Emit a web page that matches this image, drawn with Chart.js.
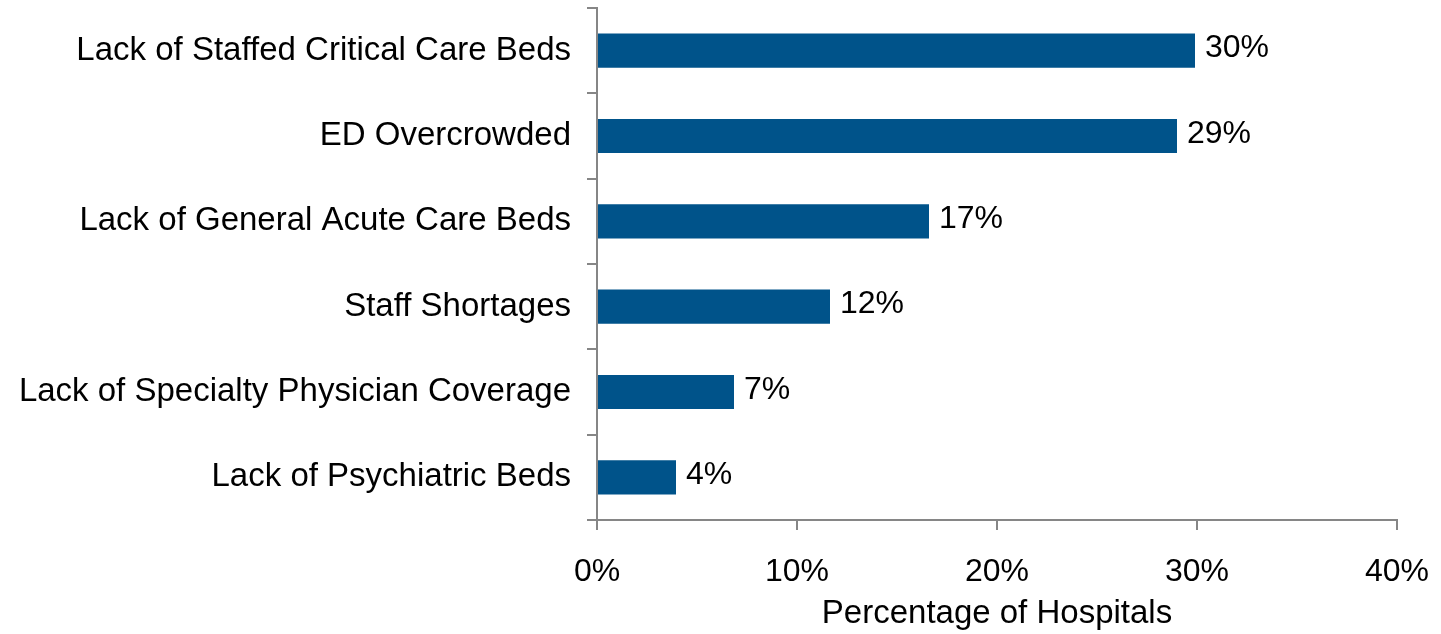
<!DOCTYPE html>
<html>
<head>
<meta charset="utf-8">
<script src="https://cdn.jsdelivr.net/npm/chart.js@4/dist/chart.umd.min.js"></script>
<style>
  html, body { margin: 0; padding: 0; background: #fff; }
  #wrap { width: 1441px; height: 634px; }
</style>
</head>
<body>
<div id="wrap"><canvas id="reasonsChart"></canvas></div>
<script>
// reasons for diversion, share of hospitals (%)
const categories = [
  "Lack of Staffed Critical Care Beds",
  "ED Overcrowded",
  "Lack of General Acute Care Beds",
  "Staff Shortages",
  "Lack of Specialty Physician Coverage",
  "Lack of Psychiatric Beds",
];
const shares = [29.9, 29.0, 16.6, 11.65, 6.85, 3.95];
const xTicks = [0, 10, 20, 30, 40];

const axisGray = "#868686";
const barBlue = "#00538A";
const fontFamily = "'Liberation Sans', Arial, sans-serif";

// value labels at the end of each bar
const barValueLabels = {
  id: "barValueLabels",
  afterDatasetsDraw(chart) {
    const ctx = chart.ctx;
    const meta = chart.getDatasetMeta(0);
    ctx.save();
    ctx.font = `32px ${fontFamily}`;
    ctx.fillStyle = "#000";
    ctx.textAlign = "left";
    ctx.textBaseline = "middle";
    meta.data.forEach((bar, i) => {
      ctx.fillText(Math.round(shares[i]) + "%", bar.x + 10, bar.y - 2);
    });
    ctx.restore();
  },
};

new Chart(document.getElementById("reasonsChart"), {
  type: "bar",
  data: {
    labels: categories,
    datasets: [
      {
        data: shares,
        backgroundColor: barBlue,
        categoryPercentage: 1,
        barPercentage: 0.4,
      },
    ],
  },
  options: {
    indexAxis: "y",
    responsive: true,
    maintainAspectRatio: false,
    animation: false,
    layout: { padding: { top: 8, right: 44, left: 0, bottom: 0 } },
    plugins: { legend: { display: false }, tooltip: { enabled: false } },
    scales: {
      x: {
        min: 0,
        max: 40,
        afterBuildTicks: (scale) => {
          scale.ticks = xTicks.map((v) => ({ value: v }));
        },
        afterFit: (scale) => {
          scale.height = 114;
          scale.paddingLeft = 0;
          scale.paddingRight = 0;
        },
        border: { color: axisGray, width: 2 },
        grid: {
          drawOnChartArea: false,
          drawTicks: true,
          tickLength: 10,
          color: axisGray,
          lineWidth: 2,
        },
        ticks: {
          color: "#000",
          font: { family: fontFamily, size: 32 },
          padding: 23,
          maxRotation: 0,
          callback: (v) => v + "%",
        },
        title: {
          display: true,
          text: "Percentage of Hospitals",
          color: "#000",
          font: { family: fontFamily, size: 33 },
          padding: { top: 0, bottom: 0 },
        },
      },
      y: {
        afterFit: (scale) => {
          scale.width = 597;
          scale.paddingTop = 0;
          scale.paddingBottom = 0;
        },
        border: { color: axisGray, width: 2 },
        grid: {
          offset: true,
          drawOnChartArea: false,
          drawTicks: true,
          tickLength: 10,
          color: axisGray,
          lineWidth: 2,
        },
        ticks: {
          color: "#000",
          font: { family: fontFamily, size: 33 },
          padding: 16,
        },
      },
    },
  },
  plugins: [barValueLabels],
});
</script>
</body>
</html>
